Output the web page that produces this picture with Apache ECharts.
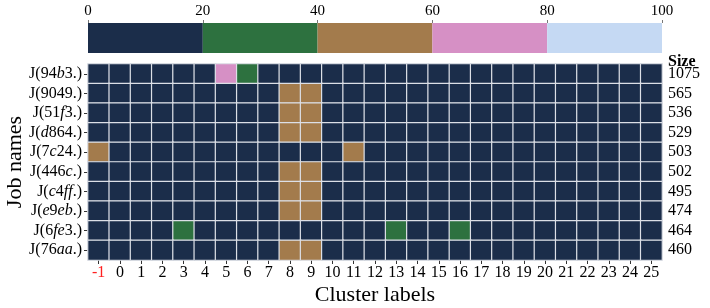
<!DOCTYPE html>
<html><head><meta charset="utf-8">
<script src="https://cdn.jsdelivr.net/npm/echarts@6/dist/echarts.min.js"></script>
<style>html,body{margin:0;padding:0;background:#fff}#c{width:710px;height:308px}</style>
</head><body><div id="c"></div>
<script>
const clusterLabels = ['-1','0','1','2','3','4','5','6','7','8','9','10','11','12','13','14','15','16','17','18','19','20','21','22','23','24','25'];
const jobNames = ['J(94b3.)','J(9049.)','J(51f3.)','J(d864.)','J(7c24.)','J(446c.)','J(c4ff.)','J(e9eb.)','J(6fe3.)','J(76aa.)'];
const jobSizes = ['1075','565','536','529','503','502','495','474','464','460'];
// share (%) of each job's tasks in each cluster, columns follow clusterLabels
const row_94b3 = [0,0,0,0,0,0,65,35,0,0,0,0,0,0,0,0,0,0,0,0,0,0,0,0,0,0,0];
const row_9049 = [0,0,0,0,0,0,0,0,0,50,50,0,0,0,0,0,0,0,0,0,0,0,0,0,0,0,0];
const row_51f3 = [0,0,0,0,0,0,0,0,0,50,50,0,0,0,0,0,0,0,0,0,0,0,0,0,0,0,0];
const row_d864 = [0,0,0,0,0,0,0,0,0,50,50,0,0,0,0,0,0,0,0,0,0,0,0,0,0,0,0];
const row_7c24 = [50,0,0,0,0,0,0,0,0,0,0,0,50,0,0,0,0,0,0,0,0,0,0,0,0,0,0];
const row_446c = [0,0,0,0,0,0,0,0,0,50,50,0,0,0,0,0,0,0,0,0,0,0,0,0,0,0,0];
const row_c4ff = [0,0,0,0,0,0,0,0,0,50,50,0,0,0,0,0,0,0,0,0,0,0,0,0,0,0,0];
const row_e9eb = [0,0,0,0,0,0,0,0,0,50,50,0,0,0,0,0,0,0,0,0,0,0,0,0,0,0,0];
const row_6fe3 = [0,0,0,0,33,0,0,0,0,0,0,0,0,0,33,0,0,34,0,0,0,0,0,0,0,0,0];
const row_76aa = [0,0,0,0,0,0,0,0,0,50,50,0,0,0,0,0,0,0,0,0,0,0,0,0,0,0,0];
const rows = [row_94b3,row_9049,row_51f3,row_d864,row_7c24,row_446c,row_c4ff,row_e9eb,row_6fe3,row_76aa];
const colorBounds = [0,20,40,60,80,100];
const bandColors = ['#1b2d4a','#2d713f','#a37b4c','#d690c5','#c5d9f3'];
const colorbarTicks = [0,20,40,60,80,100];

const FONT = 'Liberation Serif';
const data = [];
rows.forEach((r, yi) => r.forEach((v, xi) => data.push([xi, yi, v])));

const pieces = bandColors.map((c, i) => ({gte: colorBounds[i], lt: i === bandColors.length - 1 ? colorBounds[i+1] + 1 : colorBounds[i+1], color: c}));

const barSeries = bandColors.map((c, i) => ({
  type: 'bar', xAxisIndex: 1, yAxisIndex: 2, stack: 'cb', barWidth: '100%',
  data: [colorBounds[i+1] - colorBounds[i]], itemStyle: {color: c}, silent: true
}));

function jobFmt(v) {
  const inner = v.slice(2, v.length - 2);
  let s = '{n|J(}';
  for (const ch of inner) s += /[a-z]/.test(ch) ? '{i|' + ch + '}' : '{n|' + ch + '}';
  return s + '{n|.)}';
}

const chart = echarts.init(document.getElementById('c'));
chart.setOption({
  animation: false,
  textStyle: {fontFamily: FONT},
  grid: [
    {left: 88, right: 48, top: 64, bottom: 48, containLabel: false, outerBoundsMode: 'none'},
    {left: 88, right: 48, top: 23, height: 30, containLabel: false, outerBoundsMode: 'none'}
  ],
  xAxis: [
    {type: 'category', gridIndex: 0, data: clusterLabels, position: 'bottom',
     name: 'Cluster labels', nameLocation: 'middle', nameGap: 24, nameMoveOverlap: false,
     nameTextStyle: {fontFamily: FONT, fontSize: 22, color: '#000'},
     axisLine: {show: false}, splitLine: {show: false},
     axisTick: {show: true, length: 4, alignWithLabel: true, lineStyle: {color: '#333'}},
     axisLabel: {fontFamily: FONT, fontSize: 16, margin: 5, interval: 0, hideOverlap: false,
       color: (v) => v === '-1' ? '#ff2020' : '#000'}},
    {type: 'value', gridIndex: 1, min: 0, max: 100, interval: 20, position: 'top',
     axisLine: {show: false}, splitLine: {show: false},
     axisTick: {show: true, length: 3, lineStyle: {color: '#777'}},
     axisLabel: {fontFamily: FONT, fontSize: 15, color: '#000', margin: 4,
       formatter: (v) => colorbarTicks.includes(v) ? String(v) : ''}}
  ],
  yAxis: [
    {type: 'category', gridIndex: 0, data: jobNames, inverse: true,
     name: 'Job names', nameLocation: 'middle', nameGap: 62, nameRotate: 90, nameMoveOverlap: false,
     nameTextStyle: {fontFamily: FONT, fontSize: 22, color: '#000'},
     axisLine: {show: false}, splitLine: {show: false},
     axisTick: {show: true, length: 4, alignWithLabel: true, interval: 0, lineStyle: {color: '#333'}},
     axisLabel: {margin: 6, interval: 0, formatter: jobFmt, rich: {
       n: {fontFamily: FONT, fontSize: 16, color: '#000'},
       i: {fontFamily: FONT, fontSize: 16, color: '#000', fontStyle: 'italic'}}}},
    {type: 'category', gridIndex: 0, data: jobSizes, inverse: true, position: 'right',
     name: 'Size', nameLocation: 'start', nameGap: -6, nameMoveOverlap: false,
     nameTextStyle: {fontFamily: FONT, fontSize: 16, fontWeight: 'bold', color: '#000', align: 'left', padding: [0,0,0,6]},
     axisLine: {show: false}, axisTick: {show: false}, splitLine: {show: false},
     axisLabel: {fontFamily: FONT, fontSize: 16, color: '#000', margin: 6, align: 'left', interval: 0}},
    {type: 'category', gridIndex: 1, data: ['cb'], show: false}
  ],
  visualMap: {type: 'piecewise', show: false, seriesIndex: 0, dimension: 2, pieces: pieces},
  series: [
    {type: 'heatmap', xAxisIndex: 0, yAxisIndex: 0, data: data,
     itemStyle: {borderColor: '#dcdfe6', borderWidth: 1.2},
     emphasis: {disabled: true}, silent: true}
  ].concat(barSeries)
});
</script></body></html>
